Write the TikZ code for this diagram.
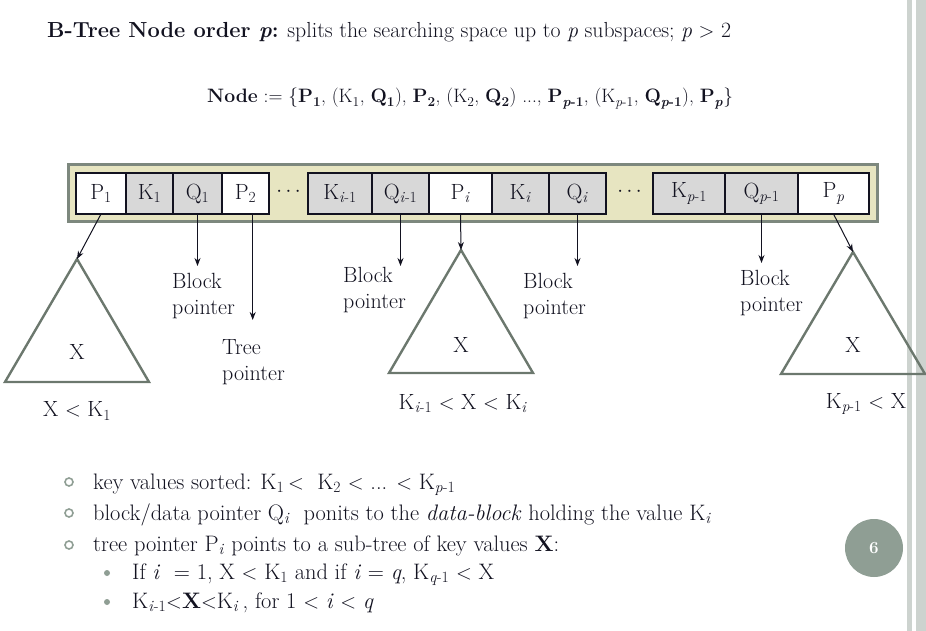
\documentclass[tikz,border=0pt]{standalone}
\usepackage{xcolor}
\usepackage{tikz}
\usetikzlibrary{arrows.meta,positioning,fit,backgrounds}
\definecolor{inkcolour}{RGB}{18,18,32}
\definecolor{boxyellow}{RGB}{231,229,193}
\definecolor{boxrim}{RGB}{125,136,126}
\definecolor{cellgray}{RGB}{216,216,216}
\definecolor{treegray}{RGB}{108,120,110}
\definecolor{slidegreen}{RGB}{143,158,148}
\definecolor{barcolour}{RGB}{205,211,207}

\tikzset{
  cell/.style={draw=inkcolour, line width=1.6pt, minimum height=41pt, inner sep=0pt, outer sep=0pt,
    text=inkcolour, font=\fontsize{22}{26}\selectfont},
  keycell/.style={cell, fill=cellgray},
  ptrcell/.style={cell, fill=white},
  ptr/.style={draw=inkcolour, line width=1pt, -{Stealth[length=8pt,width=6pt]}},
  subtree/.style={draw=treegray, line width=2.4pt, line join=miter},
  lbl/.style={text=inkcolour, inner sep=0pt, font=\fontsize{22}{26.5}\selectfont, align=left},
  txt/.style={text=inkcolour, inner sep=0pt, font=\fontsize{22.4}{26}\selectfont, anchor=base west},
  ring/.style={circle, draw=slidegreen, line width=1.6pt, minimum size=8pt, inner sep=0pt},
  dot/.style={circle, fill=slidegreen, minimum size=6pt, inner sep=0pt}
}

\begin{document}
\begin{tikzpicture}[x=1pt,y=-1pt]
  \useasboundingbox (0,0) rectangle (926,631);
  % slide border bars
  \fill[barcolour] (907.3,0) rectangle (911.7,631);
  \fill[barcolour] (916,0) rectangle (926,631);

  % heading
  \node[txt, font=\fontsize{21.8}{26}\selectfont] (title) at (47,38) {\textbf{B-Tree Node order \textit{p}:} splits the searching space up to \textit{p} subspaces; \textit{p} $>$ 2};
  \node[txt, font=\fontsize{19.4}{26}\selectfont] (nodedef) at (207,103) {\textbf{Node} := \{\textbf{P\textsubscript{1}}, (K\textsubscript{1}, \textbf{Q\textsubscript{1}}), \textbf{P\textsubscript{2}}, (K\textsubscript{2}, \textbf{Q\textsubscript{2}}) ..., \textbf{P\textsubscript{\textit{p}-1}}, (K\textsubscript{\textit{p}-1}, \textbf{Q\textsubscript{\textit{p}-1}}), \textbf{P\textsubscript{\textit{p}}}\}};

  % the node cells
  \node[ptrcell, minimum width=50pt] (p1) at (101,193.5) {P\textsubscript{1}};
  \node[keycell, minimum width=47pt, right=0pt of p1] (k1) {K\textsubscript{1}};
  \node[keycell, minimum width=49pt, right=0pt of k1] (q1) {Q\textsubscript{1}};
  \node[ptrcell, minimum width=47pt, right=0pt of q1] (p2) {P\textsubscript{2}};
  \node[text=inkcolour, font=\fontsize{21}{25}\selectfont] (dotsa) at (288.5,192) {$\cdots$};
  \node[keycell, minimum width=64pt] (kim) at (340,193.5) {K\textsubscript{\textit{i}-1}};
  \node[keycell, minimum width=57pt, right=0pt of kim] (qim) {Q\textsubscript{\textit{i}-1}};
  \node[ptrcell, minimum width=63pt, right=0pt of qim] (pi) {P\textsubscript{\textit{i}}};
  \node[keycell, minimum width=57pt, right=0pt of pi] (ki) {K\textsubscript{\textit{i}}};
  \node[keycell, minimum width=57pt, right=0pt of ki] (qi) {Q\textsubscript{\textit{i}}};
  \node[text=inkcolour, font=\fontsize{21}{25}\selectfont] (dotsb) at (629.5,192) {$\cdots$};
  \node[keycell, minimum width=72pt] (kpm) at (689,193.5) {K\textsubscript{\textit{p}-1}};
  \node[keycell, minimum width=73pt, right=0pt of kpm] (qpm) {Q\textsubscript{\textit{p}-1}};
  \node[ptrcell, minimum width=71pt, right=0pt of qpm] (pp) {P\textsubscript{\textit{p}}};
  \begin{scope}[on background layer]
    \node[fit=(p1)(pp), inner xsep=8pt, inner ysep=8pt, fill=boxyellow, draw=boxrim, line width=3pt] (record) {};
  \end{scope}

  % sub-trees
  \coordinate (topl) at (77,259);
  \coordinate (topm) at (461,250);
  \coordinate (topr) at (853,252);
  \draw[subtree] (topl) -- (5,382) -- (149,382) -- cycle;
  \draw[subtree] (topm) -- (389,373) -- (533,373) -- cycle;
  \draw[subtree] (topr) -- (781,374) -- (925,374) -- cycle;
  \node[lbl] (xl) at (77,352) {X};
  \node[lbl] (xm) at (461,345) {X};
  \node[lbl] (xr) at (853,345) {X};
  \node[lbl] (rangel) at (77,411) {X $<$ K\textsubscript{1}};
  \node[lbl] (rangem) at (463,404) {K\textsubscript{\textit{i}-1} $<$ X $<$ K\textsubscript{\textit{i}}};
  \node[lbl] (ranger) at (866,404) {K\textsubscript{\textit{p}-1} $<$ X};

  % pointers
  \coordinate (q1tip) at (197.5,266);
  \coordinate (p2tip) at (252.7,320);
  \coordinate (qimtip) at (400.5,266);
  \coordinate (qitip) at (577.5,266);
  \coordinate (qpmtip) at (761.5,263);
  \draw[ptr] (p1.south) -- (topl);
  \draw[ptr] (q1.south) -- (q1tip);
  \draw[ptr] (p2.south -| p2tip) -- (p2tip);
  \draw[ptr] (qim.south) -- (qimtip);
  \draw[ptr] (pi.south) -- (topm);
  \draw[ptr] (qi.south) -- (qitip);
  \draw[ptr] (qpm.south) -- (qpmtip);
  \draw[ptr] (pp.south) -- (topr);
  \node[lbl, anchor=north west] (blocka) at (172,273) {Block\\pointer};
  \node[lbl, anchor=north west] (treea) at (222,339) {Tree\\pointer};
  \node[lbl, anchor=north west] (blockb) at (343,267) {Block\\pointer};
  \node[lbl, anchor=north west] (blockc) at (523,273) {Block\\pointer};
  \node[lbl, anchor=north west] (blockd) at (740,270) {Block\\pointer};

  % notes
  \node[ring] (ringa) at (69,482) {};
  \node[ring] (ringb) at (69,513) {};
  \node[ring] (ringc) at (69,545) {};
  \node[dot] (dota) at (107,573) {};
  \node[dot] (dotb) at (107,602) {};
  \node[txt] (notea) at (93,489) {key values sorted: K\textsubscript{1}\,$<$\ \ K\textsubscript{2} $<$ ... $<$ K\textsubscript{\textit{p}-1}};
  \node[txt] (noteb) at (93,520) {block/data pointer Q\textsubscript{\textit{i}}\ \ ponits to the \textit{data-block} holding the value K\textsubscript{\textit{i}}};
  \node[txt] (notec) at (93,551) {tree pointer P\textsubscript{\textit{i}} points to a sub-tree of key values \textbf{X}:};
  \node[txt] (noted) at (132,579) {If \textit{i}\ \ = 1, X $<$ K\textsubscript{1} and if \textit{i} = \textit{q}, K\textsubscript{\textit{q}-1} $<$ X};
  \node[txt] (notee) at (132,608) {K\textsubscript{\textit{i}-1}$<$\textbf{X}$<$K\textsubscript{\textit{i}}\,, for 1 $<$ \textit{i} $<$ \textit{q}};

  % slide number
  \node[circle, fill=slidegreen, minimum size=58pt, inner sep=0pt, text=white, font=\fontsize{17}{20}\selectfont\bfseries] (pageno) at (874,548) {6};
\end{tikzpicture}
\end{document}
